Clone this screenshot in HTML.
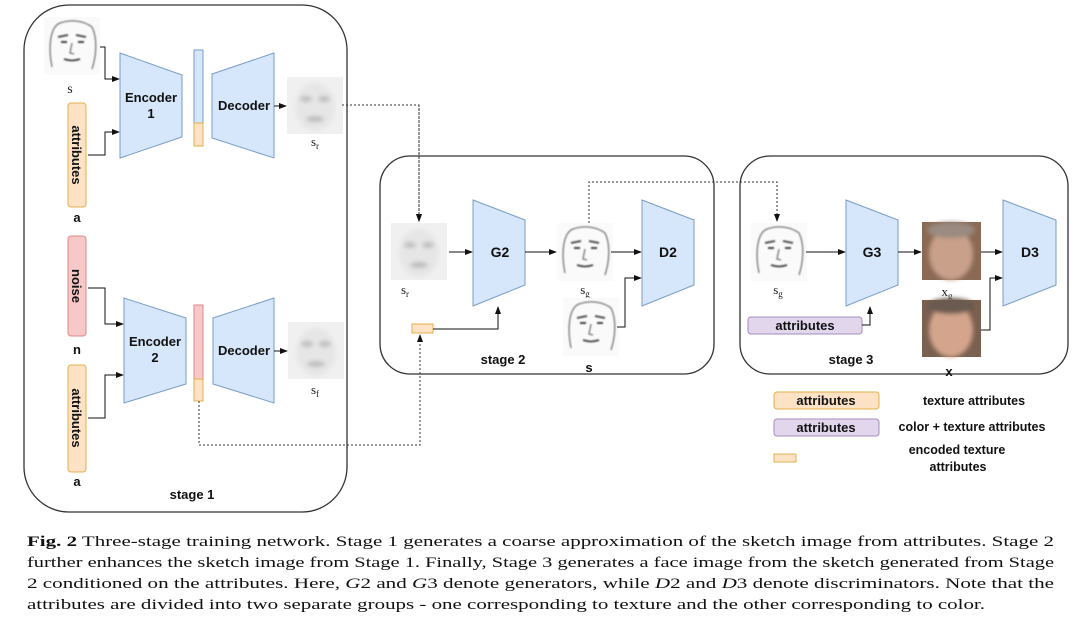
<!DOCTYPE html>
<html><head><meta charset="utf-8"><style>
html,body{margin:0;padding:0;background:#fff;}
svg{display:block;}
.b{font-family:"Liberation Sans",sans-serif;font-weight:bold;fill:#111;}
.s{font-family:"Liberation Serif",serif;fill:#222;}
.cap{font-family:"Liberation Serif",serif;font-size:15.2px;fill:#111;}
</style></head><body>
<svg width="1080" height="625" viewBox="0 0 1080 625" xmlns="http://www.w3.org/2000/svg">
<defs>
<marker id="ar" markerWidth="8" markerHeight="8" refX="7" refY="4" orient="auto" markerUnits="userSpaceOnUse"><path d="M0,1 L8,4 L0,7 Z" fill="#111"/></marker>
<filter id="bl"><feGaussianBlur stdDeviation="2"/></filter>
<filter id="bl1"><feGaussianBlur stdDeviation="0.7"/></filter>
<g id="sketch">
<rect width="56" height="58" fill="#fafafa"/>
<g filter="url(#bl1)" stroke="#777" fill="none" stroke-width="1.3">
<path d="M8,50 C4,30 6,10 16,6 C28,2 40,4 48,10 C54,22 52,40 48,52"/>
<path d="M14,20 l10,-2 M32,18 l10,2" stroke="#555" stroke-width="2"/>
<path d="M17,25 l6,0 M34,25 l6,0" stroke="#444" stroke-width="2"/>
<path d="M28,26 l-2,10 l4,1"/>
<path d="M20,42 q8,3 16,0" stroke="#444" stroke-width="1.8"/>
</g></g>
<g id="blur">
<rect width="56" height="57" fill="#f0f0f0"/>
<g filter="url(#bl)" fill="#bbb">
<ellipse cx="28" cy="30" rx="20" ry="24" fill="#e6e6e6"/>
<ellipse cx="19" cy="22" rx="6" ry="3"/><ellipse cx="37" cy="22" rx="6" ry="3"/>
<ellipse cx="28" cy="42" rx="9" ry="3"/>
</g></g>
</defs>

<!-- Stage 1 -->
<rect x="24" y="5" width="323" height="507" rx="45" fill="#fff" stroke="#333" stroke-width="1.3"/>
<use href="#sketch" x="44" y="17"/>
<text x="70" y="93" class="s" font-size="14" text-anchor="middle">s</text>
<rect x="68" y="103" width="18" height="104" rx="3" fill="#fde2c6" stroke="#e3b04a"/>
<text transform="translate(72,155) rotate(90)" class="b" font-size="13" text-anchor="middle">attributes</text>
<text x="77" y="222" class="b" font-size="13" text-anchor="middle">a</text>
<polyline points="100,47 105,47 105,79 119,79" fill="none" stroke="#111" marker-end="url(#ar)"/>
<polyline points="88,155 105,155 105,132 119,132" fill="none" stroke="#111" marker-end="url(#ar)"/>
<polygon points="120,53 182,75 182,137 120,158" fill="#d6e6fb" stroke="#7a9cc9"/>
<text x="151" y="102" class="b" font-size="13" text-anchor="middle">Encoder</text>
<text x="151" y="118" class="b" font-size="13" text-anchor="middle">1</text>
<rect x="194" y="50" width="9" height="73" fill="#d6e6fb" stroke="#7a9cc9"/>
<rect x="194" y="123" width="9" height="23" fill="#fde2c6" stroke="#e3b04a"/>
<polygon points="212,74 274,53 274,158 212,138" fill="#d6e6fb" stroke="#7a9cc9"/>
<text x="244" y="110" class="b" font-size="13" text-anchor="middle">Decoder</text>
<line x1="274" y1="106" x2="286" y2="106" stroke="#111" marker-end="url(#ar)"/>
<use href="#blur" x="287" y="77"/>
<text x="315" y="146" class="s" font-size="13" text-anchor="middle">s<tspan font-size="9" dy="3">r</tspan></text>

<rect x="68" y="236" width="18" height="100" rx="3" fill="#f7c8c8" stroke="#d88"/>
<text transform="translate(72,286) rotate(90)" class="b" font-size="13" text-anchor="middle">noise</text>
<text x="77" y="354" class="b" font-size="13" text-anchor="middle">n</text>
<rect x="68" y="365" width="18" height="107" rx="3" fill="#fde2c6" stroke="#e3b04a"/>
<text transform="translate(72,418) rotate(90)" class="b" font-size="13" text-anchor="middle">attributes</text>
<text x="77" y="486" class="b" font-size="13" text-anchor="middle">a</text>
<polyline points="88,288 105,288 105,324 123,324" fill="none" stroke="#111" marker-end="url(#ar)"/>
<polyline points="88,418 105,418 105,375 123,375" fill="none" stroke="#111" marker-end="url(#ar)"/>
<polygon points="124,298 186,318 186,384 124,403" fill="#d6e6fb" stroke="#7a9cc9"/>
<text x="155" y="346" class="b" font-size="13" text-anchor="middle">Encoder</text>
<text x="155" y="362" class="b" font-size="13" text-anchor="middle">2</text>
<rect x="194" y="305" width="9" height="74" fill="#f7c8c8" stroke="#d88"/>
<rect x="194" y="379" width="9" height="22" fill="#fde2c6" stroke="#e3b04a"/>
<polygon points="213,318 274,298 274,403 213,384" fill="#d6e6fb" stroke="#7a9cc9"/>
<text x="244" y="355" class="b" font-size="13" text-anchor="middle">Decoder</text>
<line x1="274" y1="351" x2="287" y2="351" stroke="#111" marker-end="url(#ar)"/>
<use href="#blur" x="288" y="322"/>
<text x="315" y="394" class="s" font-size="13" text-anchor="middle">s<tspan font-size="9" dy="3">f</tspan></text>
<text x="192" y="499" class="b" font-size="13" text-anchor="middle">stage 1</text>

<!-- dotted connectors -->
<polyline points="199,401 199,445 420,445 420,335" fill="none" stroke="#333" stroke-dasharray="2,2" marker-end="url(#ar)"/>
<polyline points="342,105 419,105 419,221" fill="none" stroke="#333" stroke-dasharray="2,2" marker-end="url(#ar)"/>

<!-- Stage 2 -->
<rect x="380" y="156" width="334" height="218" rx="30" fill="none" stroke="#333" stroke-width="1.3"/>
<polyline points="419,105 419,221" fill="none" stroke="#333" stroke-dasharray="2,2" marker-end="url(#ar)"/>
<use href="#blur" x="391" y="223"/>
<text x="405" y="294" class="s" font-size="13" text-anchor="middle">s<tspan font-size="9" dy="3">r</tspan></text>
<line x1="449" y1="252" x2="472" y2="252" stroke="#111" marker-end="url(#ar)"/>
<polygon points="473,200 525,220 525,285 473,306" fill="#d6e6fb" stroke="#7a9cc9"/>
<text x="500" y="257" class="b" font-size="14" text-anchor="middle">G2</text>
<line x1="525" y1="252" x2="556" y2="252" stroke="#111" marker-end="url(#ar)"/>
<use href="#sketch" x="557" y="223"/>
<text x="585" y="294" class="s" font-size="13" text-anchor="middle">s<tspan font-size="9" dy="3">g</tspan></text>
<line x1="611" y1="252" x2="641" y2="252" stroke="#111" marker-end="url(#ar)"/>
<use href="#sketch" x="563" y="298"/>
<text x="589" y="372" class="b" font-size="13" text-anchor="middle">s</text>
<polyline points="617,327 625,327 625,278 641,278" fill="none" stroke="#111" marker-end="url(#ar)"/>
<polygon points="642,200 694,220 694,285 642,306" fill="#d6e6fb" stroke="#7a9cc9"/>
<text x="668" y="257" class="b" font-size="14" text-anchor="middle">D2</text>
<rect x="412" y="324" width="21" height="9" fill="#fde2c6" stroke="#e3b04a"/>
<polyline points="433,329 498,329 498,307" fill="none" stroke="#111" marker-end="url(#ar)"/>
<text x="503" y="364" class="b" font-size="13" text-anchor="middle">stage 2</text>
<polyline points="589,223 589,182 777,182 777,221" fill="none" stroke="#333" stroke-dasharray="2,2" marker-end="url(#ar)"/>

<!-- Stage 3 -->
<rect x="740" y="156" width="328" height="218" rx="30" fill="none" stroke="#333" stroke-width="1.3"/>
<use href="#sketch" x="751" y="223"/>
<text x="778" y="294" class="s" font-size="13" text-anchor="middle">s<tspan font-size="9" dy="3">g</tspan></text>
<line x1="806" y1="252" x2="845" y2="252" stroke="#111" marker-end="url(#ar)"/>
<polygon points="846,200 898,220 898,285 846,306" fill="#d6e6fb" stroke="#7a9cc9"/>
<text x="872" y="257" class="b" font-size="14" text-anchor="middle">G3</text>
<line x1="898" y1="252" x2="921" y2="252" stroke="#111" marker-end="url(#ar)"/>
<rect x="922" y="222" width="59" height="58" fill="#8a6a55"/>
<g filter="url(#bl)"><ellipse cx="951" cy="254" rx="22" ry="26" fill="#c9a08a"/><ellipse cx="951" cy="230" rx="24" ry="8" fill="#9a8a80"/></g>
<text x="947" y="296" class="s" font-size="13" text-anchor="middle">x<tspan font-size="9" dy="3">g</tspan></text>
<rect x="922" y="300" width="59" height="57" fill="#7a6050"/>
<g filter="url(#bl)"><ellipse cx="951" cy="330" rx="22" ry="27" fill="#d4a58c"/><ellipse cx="951" cy="306" rx="24" ry="8" fill="#6a5a50"/></g>
<text x="949" y="376" class="b" font-size="13" text-anchor="middle">x</text>
<line x1="981" y1="252" x2="1002" y2="252" stroke="#111" marker-end="url(#ar)"/>
<polyline points="981,330 990,330 990,278 1002,278" fill="none" stroke="#111" marker-end="url(#ar)"/>
<polygon points="1003,200 1056,220 1056,285 1003,306" fill="#d6e6fb" stroke="#7a9cc9"/>
<text x="1030" y="257" class="b" font-size="14" text-anchor="middle">D3</text>
<rect x="748" y="317" width="114" height="17" rx="3" fill="#e2d6ec" stroke="#a58cbf"/>
<text x="805" y="330" class="b" font-size="13" text-anchor="middle">attributes</text>
<polyline points="862,325 870,325 870,307" fill="none" stroke="#111" marker-end="url(#ar)"/>
<text x="851" y="364" class="b" font-size="13" text-anchor="middle">stage 3</text>

<!-- legend -->
<rect x="774" y="392" width="105" height="17" rx="3" fill="#fde2c6" stroke="#e3b04a"/>
<text x="826" y="405" class="b" font-size="13" text-anchor="middle">attributes</text>
<text x="974" y="405" class="b" font-size="12.5" text-anchor="middle">texture attributes</text>
<rect x="774" y="419" width="105" height="17" rx="3" fill="#e2d6ec" stroke="#a58cbf"/>
<text x="826" y="432" class="b" font-size="13" text-anchor="middle">attributes</text>
<text x="972" y="431" class="b" font-size="12.5" text-anchor="middle">color + texture attributes</text>
<rect x="774" y="454" width="22" height="8" fill="#fde2c6" stroke="#e3b04a"/>
<text x="957" y="454" class="b" font-size="12.5" text-anchor="middle">encoded texture</text>
<text x="958" y="471" class="b" font-size="12.5" text-anchor="middle">attributes</text>

<!-- caption -->
<text x="27" y="546" class="cap" textLength="1027" lengthAdjust="spacingAndGlyphs"><tspan font-weight="bold">Fig. 2</tspan>  Three-stage training network. Stage 1 generates a coarse approximation of the sketch image from attributes. Stage 2</text>
<text x="27" y="567" class="cap" textLength="1027" lengthAdjust="spacingAndGlyphs">further enhances the sketch image from Stage 1. Finally, Stage 3 generates a face image from the sketch generated from Stage</text>
<text x="27" y="588" class="cap" textLength="1027" lengthAdjust="spacingAndGlyphs">2 conditioned on the attributes. Here, <tspan font-style="italic">G</tspan>2 and <tspan font-style="italic">G</tspan>3 denote generators, while <tspan font-style="italic">D</tspan>2 and <tspan font-style="italic">D</tspan>3 denote discriminators. Note that the</text>
<text x="27" y="609" class="cap" textLength="958" lengthAdjust="spacingAndGlyphs">attributes are divided into two separate groups - one corresponding to texture and the other corresponding to color.</text>
</svg>
</body></html>
